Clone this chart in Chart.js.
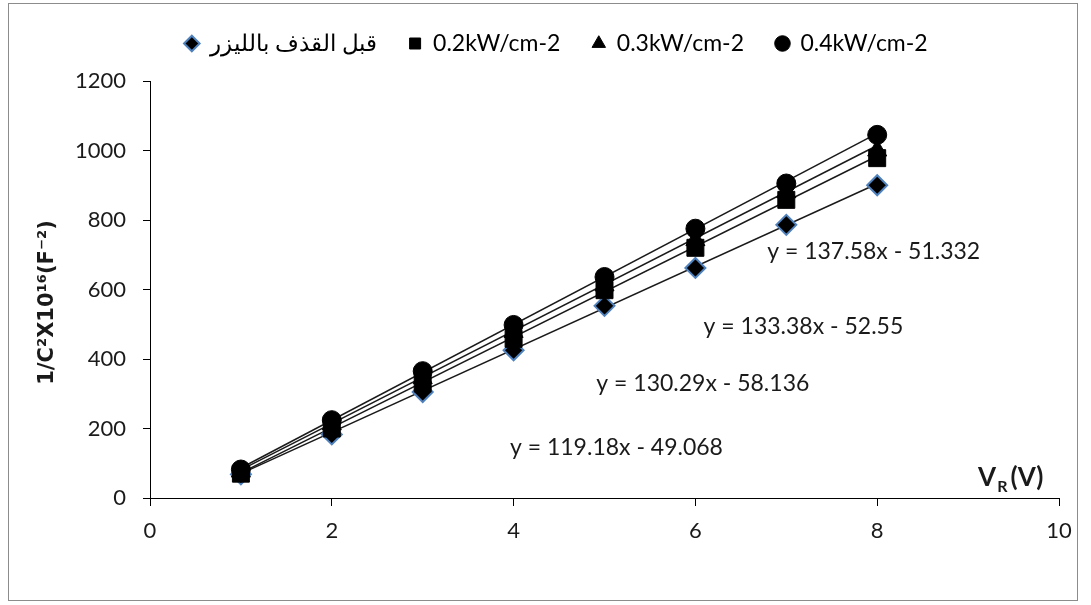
<!DOCTYPE html>
<html>
<head>
<meta charset="utf-8">
<script src="https://cdn.jsdelivr.net/npm/chart.js@4.4.0/dist/chart.umd.min.js"></script>
<style>
    html, body { margin: 0; padding: 0; background: #fff; }
    #frame { position: absolute; left: 8px; top: 3px; width: 1070px; height: 598px; border: 1px solid #8c8c8c; box-sizing: border-box; }
    #wrap { position: absolute; left: 0; top: 0; width: 1091px; height: 605px; }
</style>
</head>
<body>
<div id="frame"></div>
<div id="wrap"><canvas id="chart" width="1091" height="605"></canvas></div>
<script>
// data
var xValues = [1, 2, 3, 4, 5, 6, 7, 8];
var seriesNames = ['قبل القذف بالليزر', '0.2kW/cm-2', '0.3kW/cm-2', '0.4kW/cm-2'];
var beforeLaser = [68, 183, 305, 425, 553, 662, 786, 900];
var power02 = [70, 200, 330, 458, 598, 720, 858, 978];
var power03 = [76, 212, 345, 478, 612, 742, 880, 1000];
var power04 = [82, 224, 365, 498, 636, 775, 905, 1045];

// linear trendlines as printed on the chart
var slopes = [119.18, 130.29, 133.38, 137.58];
var intercepts = [-49.068, -58.136, -52.55, -51.332];

var xTicks = [0, 2, 4, 6, 8, 10];
var yTicks = [0, 200, 400, 600, 800, 1000, 1200];

var FONT = 'Lato, "Open Sans", sans-serif';

var toPoints = function (ys) {
    return xValues.map(function (x, i) { return { x: x, y: ys[i] }; });
};

var trendPoints = function (i) {
    var x0 = xValues[0], x1 = xValues[xValues.length - 1];
    return [
        { x: x0, y: slopes[i] * x0 + intercepts[i] },
        { x: x1, y: slopes[i] * x1 + intercepts[i] }
    ];
};

var equationText = function (i) {
    return 'y = ' + slopes[i] + 'x - ' + Math.abs(intercepts[i]);
};

// where the equation labels sit, in data units
var eqPos = [
    { x: 3.96, y: 144 },
    { x: 4.91, y: 328 },
    { x: 6.09, y: 492 },
    { x: 6.79, y: 708 }
];

var markerDs = function (label, ys, style, radius, order, border, bw) {
    return {
        label: label,
        data: toPoints(ys),
        pointStyle: style,
        pointRadius: radius,
        pointHoverRadius: radius,
        backgroundColor: '#000',
        borderColor: border,
        pointBorderWidth: bw,
        borderWidth: bw,
        showLine: false,
        order: order
    };
};

var datasets = [
    markerDs(seriesNames[0], beforeLaser, 'rectRot', 10, 4, '#4f81bd', 2),
    markerDs(seriesNames[1], power02, 'rect', 12, 3, '#000', 1),
    markerDs(seriesNames[2], power03, 'triangle', 11, 2, '#000', 1),
    markerDs(seriesNames[3], power04, 'circle', 9.5, 1, '#000', 1)
];

for (var i = 0; i < slopes.length; i++) {
    datasets.push({
        label: 'trend' + i,
        data: trendPoints(i),
        showLine: true,
        borderColor: '#1a1a1a',
        borderWidth: 1.5,
        pointRadius: 0,
        pointHoverRadius: 0,
        order: 10,
        isTrend: true
    });
}

// give the legend some room underneath
var legendSpace = {
    id: 'legendSpace',
    beforeLayout: function (chart) {
        if (chart.legend && !chart.legend._patched) {
            var fit = chart.legend.fit;
            chart.legend.fit = function () {
                fit.call(this);
                this.height += 16;
            };
            chart.legend._patched = true;
        }
    }
};

var annotations = {
    id: 'annotations',
    afterDatasetsDraw: function (chart) {
        var ctx = chart.ctx;
        var xs = chart.scales.x, ys = chart.scales.y;
        ctx.save();
        ctx.fillStyle = '#1a1a1a';
        ctx.textBaseline = 'middle';
        ctx.textAlign = 'left';
        ctx.font = '23px ' + FONT;
        for (var i = 0; i < eqPos.length; i++) {
            ctx.fillText(equationText(i), xs.getPixelForValue(eqPos[i].x), ys.getPixelForValue(eqPos[i].y));
        }

        // x axis title V_R (V)
        var tx = xs.getPixelForValue(9.11), ty = ys.getPixelForValue(58);
        ctx.font = 'bold 26px ' + FONT;
        ctx.fillText('V', tx, ty);
        tx += ctx.measureText('V').width + 1;
        ctx.font = 'bold 16px ' + FONT;
        ctx.fillText('R', tx, ty + 9);
        tx += ctx.measureText('R').width + 3;
        ctx.font = 'bold 26px ' + FONT;
        ctx.fillText('(V)', tx, ty);

        // y axis title
        ctx.translate(48, (ys.top + ys.bottom) / 2 + 13);
        ctx.rotate(-Math.PI / 2);
        ctx.textAlign = 'center';
        ctx.font = 'bold 21px "DejaVu Sans", sans-serif';
        ctx.fillText('1/C²X10¹⁶(F⁻²)', 0, 0);
        ctx.restore();
    }
};

var chart = new Chart(document.getElementById('chart'), {
    type: 'scatter',
    data: { datasets: datasets },
    options: {
        responsive: false,
        animation: false,
        layout: { padding: { top: 0, right: 32, left: 54, bottom: 0 } },
        plugins: {
            tooltip: { enabled: false },
            legend: {
                position: 'top',
                labels: {
                    usePointStyle: true,
                    boxWidth: 13,
                    boxHeight: 11,
                    padding: 32,
                    color: '#000',
                    font: { family: FONT, size: 23 },
                    sort: function (a, b) { return a.datasetIndex - b.datasetIndex; },
                    filter: function (item, data) {
                        return !data.datasets[item.datasetIndex].isTrend;
                    }
                }
            }
        },
        scales: {
            x: {
                type: 'linear',
                min: 0,
                max: 10,
                afterBuildTicks: function (scale) {
                    scale.ticks = xTicks.map(function (v) { return { value: v }; });
                },
                afterFit: function (scale) { scale.height = 107; },
                grid: { drawOnChartArea: false, tickLength: 8, color: '#000', tickColor: '#000' },
                border: { color: '#000', width: 1 },
                ticks: {
                    color: '#1a1a1a', padding: 12, font: { family: FONT, size: 22 },
                    callback: function (v) { return String(v); }
                }
            },
            y: {
                type: 'linear',
                min: 0,
                max: 1200,
                afterBuildTicks: function (scale) {
                    scale.ticks = yTicks.map(function (v) { return { value: v }; });
                },
                afterFit: function (scale) { scale.width = 96; },
                grid: { drawOnChartArea: false, tickLength: 7, color: '#000', tickColor: '#000' },
                border: { color: '#000', width: 1 },
                ticks: {
                    color: '#1a1a1a', padding: 17, font: { family: FONT, size: 22 },
                    callback: function (v) { return String(v); }
                }
            }
        }
    },
    plugins: [legendSpace, annotations]
});
</script>
</body>
</html>
